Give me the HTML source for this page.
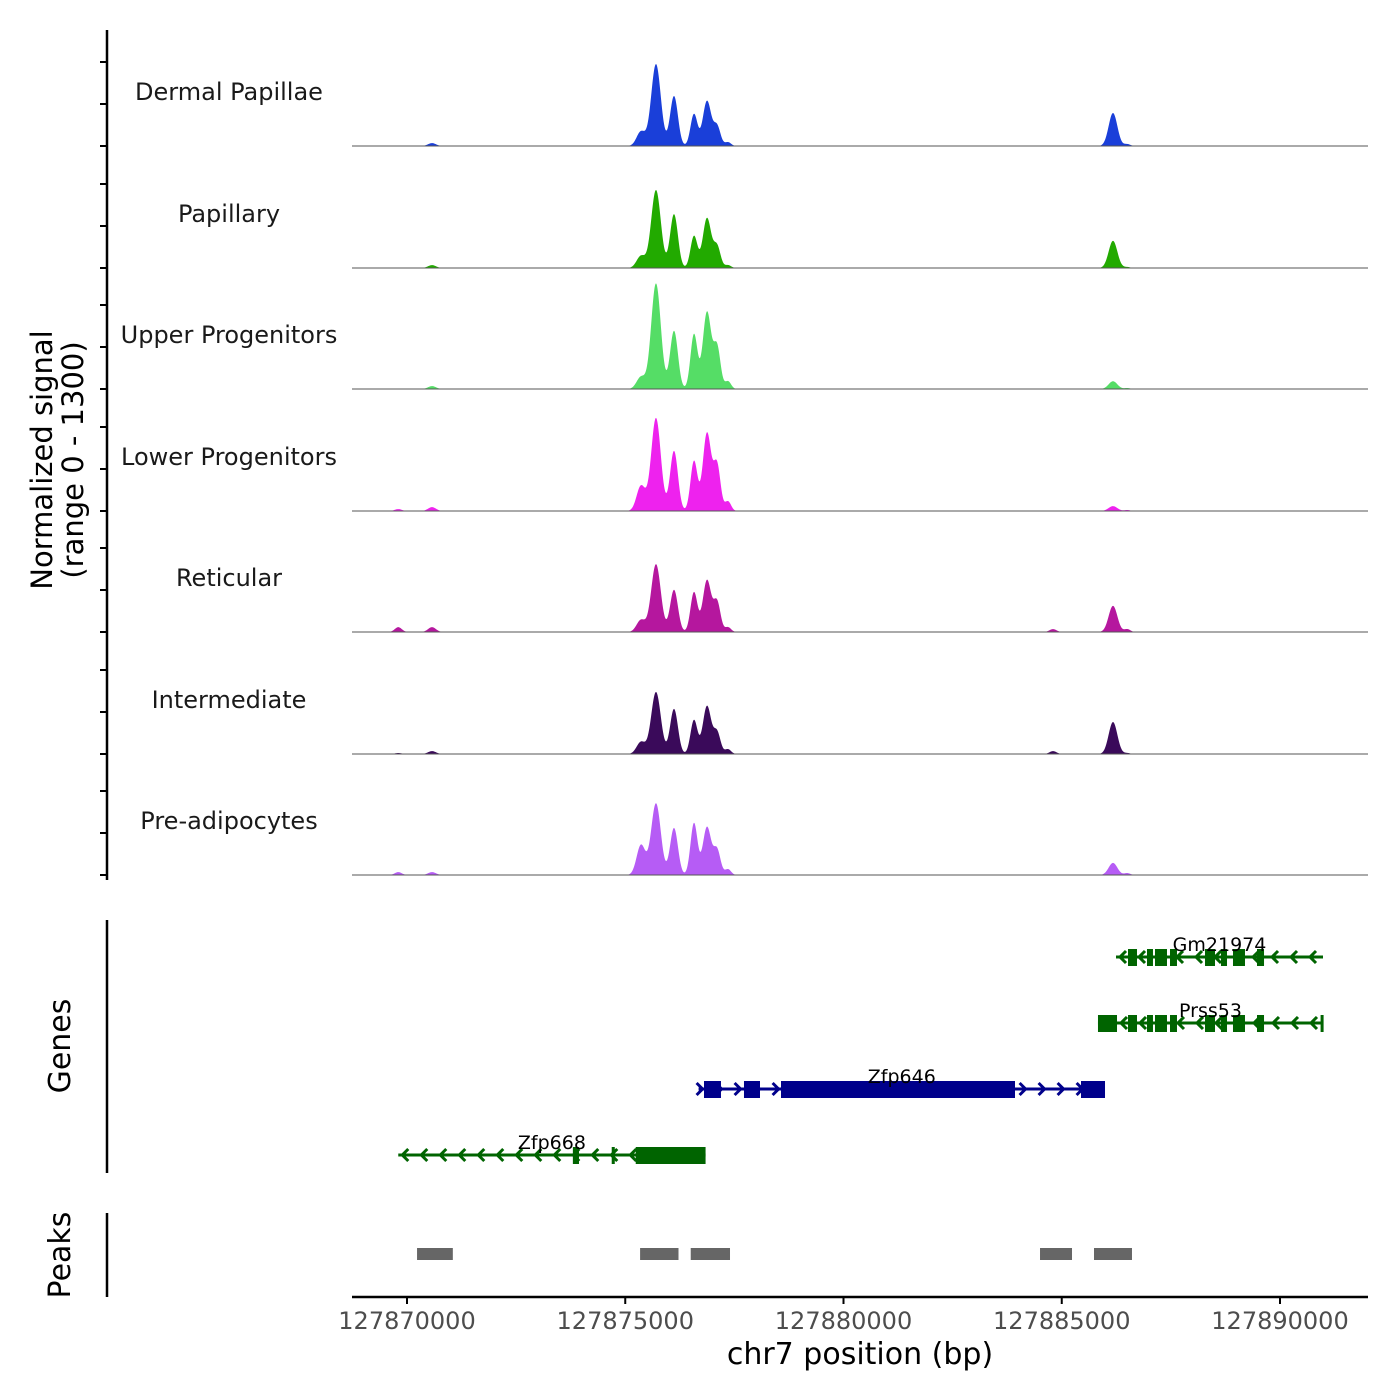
<!DOCTYPE html>
<html><head><meta charset="utf-8"><style>
body{margin:0;background:#fff}
svg{display:block;font-family:"DejaVu Sans","Liberation Sans",sans-serif}
</style></head><body>
<svg id="c" width="1400" height="1400" viewBox="0 0 1400 1400"></svg>
<script>
const trackNames=["Dermal Papillae","Papillary","Upper Progenitors","Lower Progenitors","Reticular","Intermediate","Pre-adipocytes"];
const trackColors=["#1a3fd9","#22aa00","#55dd66","#ee22ee","#b5179e","#3a0a5a","#b65cf5"];
const peakPos=[127869800,127870573,127875361,127875704,127876117,127876575,127876873,127877102,127877354,127884800,127886174,127886500];
const peakWidth=[80,90,100,110,90,80,95,80,70,80,100,70];
const dermal=[0,30,150,845,515,330,465,205,40,0,340,20];
const papillary=[0,30,125,805,555,330,515,225,30,0,280,10];
const upperProg=[0,30,125,1090,600,565,795,435,80,0,80,10];
const lowerProg=[20,40,260,960,620,515,805,475,100,0,50,10];
const reticular=[50,50,125,700,435,410,535,310,50,30,270,30];
const intermediate=[10,30,125,640,465,350,495,225,50,30,330,10];
const preAdipo=[30,30,310,740,485,535,495,260,60,0,125,20];
const trackVals=[dermal,papillary,upperProg,lowerProg,reticular,intermediate,preAdipo];
const xTicks=[127870000,127875000,127880000,127885000,127890000];
const peakRegions=[[127870230,127871050],[127875340,127876220],[127876500,127877400],[127884502,127885235],[127885739,127886609]];
const gmExons=[[127886518,127886724],[127886953,127887090],[127887136,127887411],[127887480,127887640],[127888282,127888511],[127888648,127888786],[127888923,127889198],[127889473,127889634]];
// genes: [name, strand, start, end, exons, color, row]
const genes=[
 ["Gm21974",-1,127886243,127890985,gmExons,"#006400",0],
 ["Prss53",-1,127885830,127890985,[[127885830,127886266]].concat(gmExons,[[127890930,127890985]]),"#006400",1],
 ["Zfp646",1,127876680,127885991,[[127876804,127877193],[127877720,127878087],[127878568,127883929],[127885441,127885991]],"#00008b",2],
 ["Zfp668",-1,127869800,127876840,[[127373800+500000,127873940],[127874690,127874760],[127875240,127876840]],"#006400",3]
];
const X0=127870000,PX0=407,K=873/20000;
const xs=v=>PX0+(v-X0)*K;
const YS=126/1300;
const baselines=[146,268,389,511,632,754,875];
const svg=document.getElementById('c');
const NS="http://www.w3.org/2000/svg";
function el(t,a,p){const e=document.createElementNS(NS,t);for(const k in a)e.setAttribute(k,a[k]);(p||svg).appendChild(e);return e;}
let ax=el('line',{x1:107,y1:30,x2:107,y2:880,stroke:'#000','stroke-width':2.5});

baselines.forEach(b=>{[0,42,84].forEach(o=>{el('line',{x1:100,y1:b-o,x2:107,y2:b-o,stroke:'#000','stroke-width':2});});});
let yt=el('text',{x:0,y:0,'font-size':29,'text-anchor':'middle',transform:'translate(52,460) rotate(-90)'});
yt.innerHTML='<tspan x="0" dy="0">Normalized signal</tspan><tspan x="0" dy="31">(range 0 - 1300)</tspan>';

trackVals.forEach((vals,i)=>{
 const b=baselines[i];
 const g=el('g',{});
 let d=`M352,${b}`;
 for(let px=352;px<=1368;px+=0.5){
  const bp=X0+(px-PX0)/K;let s=0;
  for(let j=0;j<peakPos.length;j++){const z=(bp-peakPos[j])/peakWidth[j];s+=vals[j]*Math.exp(-0.5*z*z);}
  d+=`L${px},${(b-s*YS).toFixed(2)}`;
 }
 d+=`L1368,${b}Z`;
 const p=el('path',{d,fill:trackColors[i]},g);
 
 el('line',{x1:352,y1:b,x2:1368,y2:b,stroke:'#555','stroke-width':1},g);
 const t=el('text',{x:229,y:b-46,'font-size':24,'text-anchor':'middle',fill:'#1a1a1a'},g);t.textContent=trackNames[i];
 
});
el('line',{x1:107,y1:920,x2:107,y2:1173,stroke:'#000','stroke-width':2.5});
let gt=el('text',{x:0,y:0,'font-size':30,'text-anchor':'middle',transform:'translate(70,1046) rotate(-90)'});gt.textContent='Genes';

genes.forEach(gn=>{
 const [name,strand,s,e,exons,col,row]=gn;const y=957+row*66;
 const g=el('g',{});
 el('line',{x1:xs(s),y1:y,x2:xs(e),y2:y,stroke:col,'stroke-width':3},g);
 for(let x=xs(s)+4;x<xs(e);x+=19){const dx=strand*6;
  el('polyline',{points:`${x-dx},${y-6} ${x},${y} ${x-dx},${y+6}`,fill:'none',stroke:col,'stroke-width':3},g);}
 exons.forEach(ex=>el('rect',{x:xs(ex[0]),y:y-8,width:Math.max(3,xs(ex[1])-xs(ex[0])),height:17,fill:col},g));
 const t=el('text',{x:(xs(s)+xs(e))/2,y:y-6,'font-size':19,'text-anchor':'middle',fill:'#000'},g);t.textContent=name;
});
el('line',{x1:107,y1:1213,x2:107,y2:1297,stroke:'#000','stroke-width':2.5});
let pt=el('text',{x:0,y:0,'font-size':30,'text-anchor':'middle',transform:'translate(70,1255) rotate(-90)'});pt.textContent='Peaks';

peakRegions.forEach(r=>{const rc=el('rect',{x:xs(r[0]),y:1248,width:xs(r[1])-xs(r[0]),height:12,fill:'#666'});
 });
el('line',{x1:352,y1:1297,x2:1368,y2:1297,stroke:'#000','stroke-width':2.5});
xTicks.forEach(v=>{el('line',{x1:xs(v),y1:1297,x2:xs(v),y2:1304,stroke:'#000','stroke-width':2});
 const t=el('text',{x:xs(v),y:1329,'font-size':24,'text-anchor':'middle',fill:'#4d4d4d'});t.textContent=v;
 });
let xt=el('text',{x:860,y:1364,'font-size':30,'text-anchor':'middle'});xt.textContent='chr7 position (bp)';

</script></body></html>
